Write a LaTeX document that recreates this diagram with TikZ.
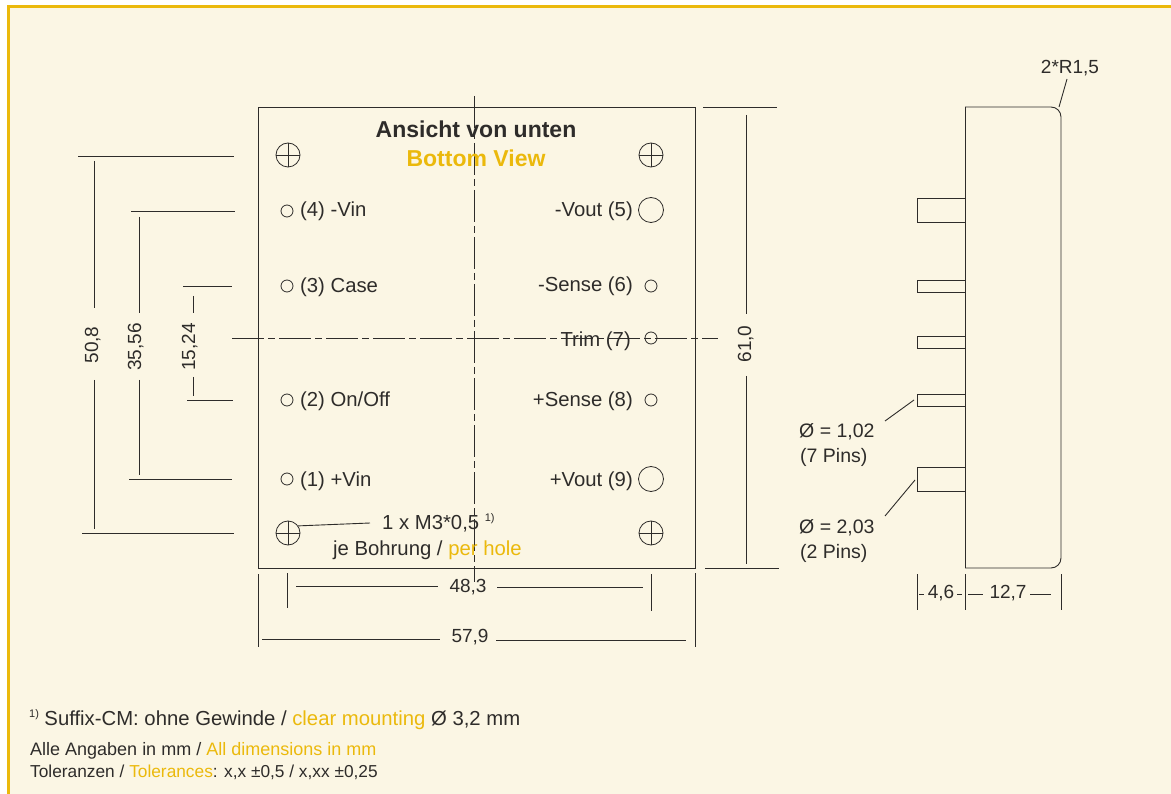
\documentclass[tikz,border=0pt]{standalone}
\usepackage{fontspec}
\setmainfont{Liberation Sans}
\definecolor{paper}{HTML}{FBF6E4}
\definecolor{gold}{HTML}{EBB90C}
\definecolor{ink}{HTML}{2E2C2A}
\newcommand{\gold}[1]{\textcolor{gold}{#1}}
\newcommand{\note}{\textsuperscript{\fontsize{11}{11}\selectfont 1)}}
\tikzset{
    every node/.style={text=ink,inner sep=0pt,font=\fontsize{20.3}{23}\selectfont},
    outline/.style={draw=ink,line width=0.9pt},
    axis/.style={draw=ink,line width=0.9pt,dash pattern=on 32pt off 4pt on 7pt off 4pt},
    pinhole/.style={circle,draw=ink,line width=0.8pt,minimum size=12pt},
    bigpin/.style={circle,draw=ink,line width=0.8pt,minimum size=25pt},
    mounthole/.style={circle,draw=ink,line width=0.8pt,minimum size=24pt,
        path picture={\draw[ink,line width=0.7pt]
            (path picture bounding box.north) -- (path picture bounding box.south)
            (path picture bounding box.west) -- (path picture bounding box.east);}},
    lbl/.style={anchor=base west},
    rlbl/.style={anchor=base east},
    pinlbl/.style={anchor=base west,font=\fontsize{19.5}{23}\selectfont},
    titlelbl/.style={anchor=base,font=\fontsize{23}{25}\bfseries\selectfont},
    dim/.style={anchor=base,font=\fontsize{19}{23}\selectfont},
    vdim/.style={anchor=base,rotate=90,font=\fontsize{19}{23}\selectfont},
}
\begin{document}
\begin{tikzpicture}[x=1pt,y=-1pt]
    \useasboundingbox (0,0) rectangle (1171,794);

    %%%%%%%%%% Sfondo %%%%%%%%%%
    \fill[paper] (8,7) rectangle (1171,794);
    \draw[gold,line width=3pt] (8,794) -- (8,7) -- (1171,7);

    %%%%%%%%%% Vista %%%%%%%%%%
    \draw[outline] (258,107) rectangle (695,568);
    \draw[axis] (474.5,96) -- (474.5,582);
    \draw[axis] (232,338) -- (718,338);

    \node[mounthole] (holeTL) at (288,155) {};
    \node[mounthole] (holeTR) at (651,155) {};
    \node[mounthole] (holeBL) at (288,533) {};
    \node[mounthole] (holeBR) at (651,533) {};

    \node[pinhole] (pinFour) at (287,211) {};
    \node[pinhole] (pinThree) at (287,286) {};
    \node[pinhole] (pinTwo) at (287,400) {};
    \node[pinhole] (pinOne) at (287,479) {};
    \node[bigpin] (pinFive) at (651,210) {};
    \node[pinhole] (pinSix) at (651,286) {};
    \node[pinhole] (pinSeven) at (651,338) {};
    \node[pinhole] (pinEight) at (651,400) {};
    \node[bigpin] (pinNine) at (651,479) {};

    %%%%%%%%%% Testo %%%%%%%%%%
    \node[titlelbl] (titleDe) at (476,138) {Ansicht von unten};
    \node[titlelbl,text=gold] (titleEn) at (476,167) {Bottom View};

    \node[lbl] (txtFour) at (300,217) {(4) -Vin};
    \node[lbl] (txtThree) at (300,293) {(3) Case};
    \node[lbl] (txtTwo) at (300,407) {(2) On/Off};
    \node[lbl] (txtOne) at (300,486) {(1) +Vin};
    \node[rlbl] (txtFive) at (633,217) {-Vout (5)};
    \node[rlbl] (txtSix) at (633,292) {-Sense (6)};
    \node[rlbl] (txtSeven) at (631,347) {Trim (7)};
    \node[rlbl] (txtEight) at (633,407) {+Sense (8)};
    \node[rlbl] (txtNine) at (633,486) {+Vout (9)};

    \node[lbl] (txtThread) at (382,529) {1 x M3*0,5 \note};
    \node[lbl] (txtHole) at (333,555) {je Bohrung / \gold{per hole}};
    \coordinate (threadEnd) at (370,523);
    \draw[outline] (holeBL.35) -- (threadEnd);

    %%%%%%%%%% Quote %%%%%%%%%%
    \draw[outline] (78,156) -- (234,156);
    \draw[outline] (82,533) -- (234,533);
    \draw[outline] (94,161) -- (94,308);
    \draw[outline] (94,380) -- (94,529);
    \node[vdim] (dimA) at (98,345) {50,8};

    \draw[outline] (131,211) -- (235,211);
    \draw[outline] (129,479) -- (232,479);
    \draw[outline] (139,217) -- (139,313);
    \draw[outline] (139,380) -- (139,475);
    \node[vdim] (dimB) at (141,347) {35,56};

    \draw[outline] (183,286) -- (232,286);
    \draw[outline] (187,400) -- (233,400);
    \draw[outline] (193,296) -- (193,313);
    \draw[outline] (193,377) -- (193,396);
    \node[vdim] (dimC) at (195,347) {15,24};

    \draw[outline] (703,107) -- (777,107);
    \draw[outline] (705,568) -- (779,568);
    \draw[outline] (746,115) -- (746,314);
    \draw[outline] (746,376) -- (746,564);
    \node[vdim] (dimD) at (751,344) {61,0};

    \draw[outline] (287,573) -- (287,608);
    \draw[outline] (651,574) -- (651,611);
    \draw[outline] (296,586) -- (438,586);
    \draw[outline] (497,587) -- (643,587);
    \node[dim] (dimE) at (468,592) {48,3};

    \draw[outline] (258,574) -- (258,647);
    \draw[outline] (695,573) -- (695,647);
    \draw[outline] (262,639) -- (440,639);
    \draw[outline] (496,640) -- (686,640);
    \node[dim] (dimF) at (470,642) {57,9};

    %%%%%%%%%% Fianco %%%%%%%%%%
    \draw[outline,rounded corners=10pt] (965,107) -- (1061,107) -- (1061,568) -- (965,568);
    \draw[outline] (965,107) -- (965,568);
    \draw[outline] (965,198) rectangle (917,222);
    \draw[outline] (965,280) rectangle (917,292);
    \draw[outline] (965,336) rectangle (917,348);
    \draw[outline] (965,394) rectangle (917,406);
    \draw[outline] (965,467) rectangle (917,491);

    \node[dim] (txtRadius) at (1070,74) {2*R1,5};
    \coordinate (cornerTip) at (1059,107);
    \draw[outline] (1067,79) -- (cornerTip);

    \node[pinlbl] (txtSmallA) at (799,438) {Ø = 1,02};
    \node[pinlbl] (txtSmallB) at (800,463) {(7 Pins)};
    \node[pinlbl] (txtBigA) at (799,533) {Ø = 2,03};
    \node[pinlbl] (txtBigB) at (800,558) {(2 Pins)};
    \coordinate (smallTip) at (914,400);
    \coordinate (bigTip) at (915,480);
    \draw[outline] (885,421) -- (smallTip);
    \draw[outline] (885,516) -- (bigTip);

    \draw[outline] (917,574) -- (917,610);
    \draw[outline] (965,574) -- (965,610);
    \draw[outline] (1061,574) -- (1061,610);
    \draw[outline] (919,594) -- (924,594);
    \draw[outline] (957,594) -- (962,594);
    \draw[outline] (968,594) -- (983,594);
    \draw[outline] (1030,594) -- (1051,594);
    \node[dim] (dimG) at (941,598) {4,6};
    \node[dim] (dimH) at (1008,598) {12,7};

    %%%%%%%%%% Note %%%%%%%%%%
    \node[lbl] (noteOne) at (29,725) {\note\hspace{5pt}Suffix-CM: ohne Gewinde / \gold{clear mounting} Ø 3,2 mm};
    \node[lbl,font=\fontsize{18}{20}\selectfont] (noteTwo) at (30,755) {Alle Angaben in mm / \gold{All dimensions in mm}};
    \node[lbl,font=\fontsize{17.3}{20}\selectfont] (noteThree) at (30,777) {Toleranzen / \gold{Tolerances}: x,x ±0,5 / x,xx ±0,25};
\end{tikzpicture}
\end{document}
